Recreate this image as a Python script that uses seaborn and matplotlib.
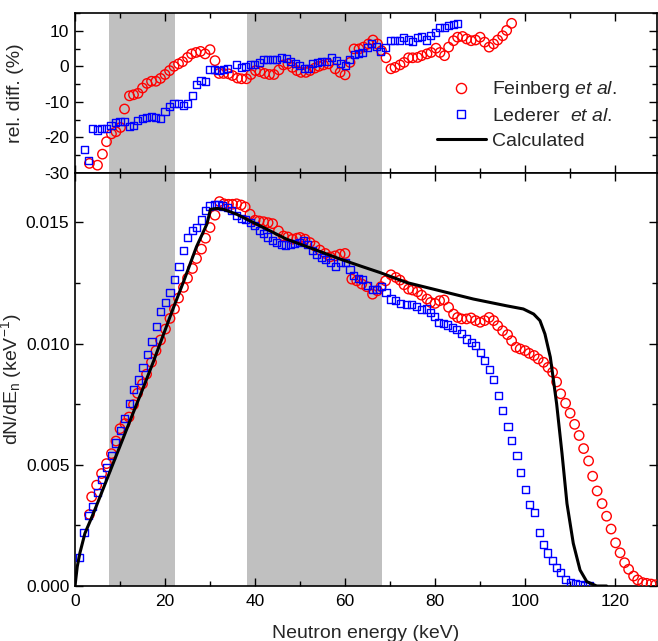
import numpy as np
import pandas as pd
import matplotlib
matplotlib.use("Agg")
import matplotlib.pyplot as plt
from matplotlib.ticker import MultipleLocator, FormatStrFormatter
from matplotlib.lines import Line2D
import seaborn as sns

# ---------------- data ----------------
# Bottom panel: Feinberg et al. (red circles)
fein_E = [3.2, 3.7, 4.8, 5.9, 7.0, 8.1, 9.1, 10.0, 11.1, 12.0, 13.0, 13.9, 15.0, 15.9, 17.0, 18.0,
          19.0, 20.1, 21.1, 22.1, 23.0, 24.1, 25.0, 26.1, 27.0, 28.1, 29.0, 30.0, 31.1, 32.1, 33.1,
          34.1, 35.0, 35.9, 36.9, 37.8, 38.9, 40.0, 40.9, 41.9, 42.9, 43.9, 45.2, 46.3, 47.3, 48.3,
          49.3, 50.0, 51.1, 52.2, 53.3, 54.4, 55.6, 56.7, 57.8, 58.9, 60.0, 61.5, 62.6, 63.7, 64.8,
          66.1, 67.2, 68.0, 69.0, 70.2, 71.3, 72.2, 73.1, 74.1, 75.0, 76.1, 77.0, 78.2, 79.0, 80.0,
          81.0, 82.0, 83.0, 84.1, 85.0, 85.9, 87.0, 88.0, 89.0, 90.0, 91.0, 92.0, 93.0, 93.9, 95.0,
          96.1, 97.0, 98.0, 98.9, 100.0, 100.9, 102.0, 102.9, 104.1, 105.1, 106.1, 107.0, 107.9,
          109.0, 110.0, 111.0, 112.0, 113.0, 114.1, 115.0, 116.0, 117.1, 118.1, 119.1, 120.1, 121.1,
          122.1, 123.0, 124.1, 125.0, 126.1, 127.0, 128.0, 129.0]
fein_Y = [0.00295, 0.00368, 0.00416, 0.00464, 0.00505, 0.00546, 0.00598, 0.00649, 0.0067, 0.00697,
          0.00748, 0.00795, 0.00834, 0.00874, 0.00923, 0.00971, 0.01015, 0.0106, 0.01104, 0.01143,
          0.01188, 0.01232, 0.0127, 0.0131, 0.01351, 0.0139, 0.01435, 0.01479, 0.0153, 0.01586,
          0.01577, 0.01575, 0.01575, 0.01577, 0.01572, 0.01564, 0.01534, 0.01509, 0.01506, 0.01503,
          0.01499, 0.01495, 0.01465, 0.01444, 0.0144, 0.01431, 0.01435, 0.01438, 0.01431, 0.01417,
          0.01403, 0.01386, 0.01372, 0.01358, 0.01362, 0.01369, 0.01372, 0.01266, 0.01259, 0.01246,
          0.01235, 0.01204, 0.01218, 0.01235, 0.01259, 0.01284, 0.01273, 0.01262, 0.01243, 0.01225,
          0.01221, 0.01214, 0.012, 0.01184, 0.0117, 0.01166, 0.01177, 0.0118, 0.0115, 0.01122,
          0.01108, 0.01102, 0.01102, 0.01106, 0.01095, 0.01088, 0.01095, 0.01108, 0.01095, 0.01074,
          0.01053, 0.01037, 0.01012, 0.00985, 0.00978, 0.00971, 0.0096, 0.00951, 0.00937, 0.00923,
          0.00902, 0.00882, 0.00842, 0.00793, 0.00754, 0.00713, 0.00667, 0.00621, 0.00567, 0.00516,
          0.00453, 0.00392, 0.0034, 0.00288, 0.00235, 0.00178, 0.00137, 0.00096, 0.00069, 0.00041,
          0.00025, 0.00014, 0.00011, 0.00008, 0.00005]

# Bottom panel: Lederer et al. (blue squares)
led_E = [1.1, 2.0, 3.1, 3.9, 5.0, 5.9, 7.0, 8.1, 9.0, 10.1, 11.0, 12.1, 13.0, 14.1, 15.1, 16.1, 17.1,
         18.1, 19.0, 20.1, 21.1, 22.2, 23.1, 24.1, 25.0, 26.1, 27.0, 28.1, 29.0, 29.9, 30.9, 31.9,
         32.8, 33.9, 34.8, 35.8, 36.9, 37.8, 38.9, 39.9, 40.9, 41.9, 42.8, 43.8, 44.8, 45.9, 46.8,
         47.8, 48.7, 49.8, 50.7, 51.7, 52.7, 53.7, 54.7, 55.7, 56.7, 57.8, 58.9, 60.0, 61.1, 61.9,
         63.0, 63.9, 65.0, 66.1, 67.0, 68.1, 69.1, 70.2, 71.3, 72.4, 73.6, 74.7, 75.8, 76.9, 78.0,
         79.0, 79.9, 80.8, 81.9, 82.8, 83.8, 84.8, 85.9, 87.0, 88.0, 89.0, 90.0, 91.0, 92.0, 93.0,
         94.1, 95.0, 96.2, 97.0, 98.2, 99.0, 100.1, 100.9, 102.0, 103.1, 104.1, 105.0, 106.0, 107.0,
         107.9, 109.0, 110.1, 111.1, 112.2, 113.3, 114.4]
led_Y = [0.00116, 0.00219, 0.00291, 0.00329, 0.00387, 0.0044, 0.0049, 0.0054, 0.0059, 0.0064,
         0.0069, 0.00754, 0.0081, 0.0085, 0.00902, 0.00955, 0.01008, 0.0107, 0.01133, 0.0117,
         0.0121, 0.01263, 0.0132, 0.01385, 0.01436, 0.01465, 0.01479, 0.0151, 0.0155, 0.01568,
         0.01572, 0.01572, 0.01568, 0.01561, 0.0155, 0.01527, 0.01517, 0.01513, 0.01499, 0.01486,
         0.01468, 0.01454, 0.0144, 0.01424, 0.01417, 0.0141, 0.01407, 0.0141, 0.01413, 0.01417,
         0.01424, 0.0141, 0.01383, 0.01369, 0.01355, 0.01347, 0.01336, 0.01317, 0.01333, 0.01335,
         0.01307, 0.0128, 0.01269, 0.01266, 0.01239, 0.01225, 0.01225, 0.01235, 0.01211, 0.01184,
         0.01177, 0.01166, 0.0116, 0.0116, 0.01152, 0.01139, 0.01143, 0.01129, 0.01111, 0.01088,
         0.01084, 0.01077, 0.01067, 0.0106, 0.0104, 0.01019, 0.01005, 0.00992, 0.00964, 0.0093,
         0.00893, 0.00852, 0.00786, 0.00724, 0.00658, 0.006, 0.00538, 0.0047, 0.004, 0.00337,
         0.00303, 0.00222, 0.00173, 0.00136, 0.00107, 0.00077, 0.00055, 0.00027, 0.00015, 0.00011,
         0.00007, 0.00003, 0.0]

# Bottom panel: calculated spectrum (black line)
calc_E = [0.0, 0.5, 1.1, 2.2, 4.1, 6.3, 8.5, 10.7, 13.0, 15.2, 17.4, 18.9, 21.8, 24.1, 27.0, 29.3,
          30.1, 31.5, 33.0, 35.9, 41.1, 47.0, 53.0, 58.9, 63.3, 67.8, 73.7, 81.1, 88.5, 95.9, 99.6,
          101.9, 103.3, 104.4, 105.6, 106.3, 107.0, 108.2, 109.3, 110.7, 112.2, 113.7, 115.9, 118.1]
calc_Y = [0.0, 0.0008, 0.00137, 0.00217, 0.003, 0.00403, 0.00507, 0.0061, 0.00718, 0.0082, 0.00925,
          0.01, 0.01145, 0.01255, 0.0140, 0.01493, 0.01554, 0.01558, 0.01554, 0.01534, 0.01486,
          0.01431, 0.0139, 0.01349, 0.01321, 0.01293, 0.01252, 0.01218, 0.01184, 0.01156, 0.01143,
          0.01122, 0.01095, 0.0104, 0.00944, 0.00848, 0.00752, 0.00546, 0.0034, 0.00176, 0.00066,
          0.00018, 0.0, 0.0]

# Top panel: relative differences (%)
rel_fein_E = [3.2, 5.0, 6.1, 7.0, 8.1, 9.1, 10.1, 11.0, 12.1, 13.0, 14.0, 15.0, 16.0, 17.0, 18.0,
              19.0, 20.0, 21.0, 22.0, 23.0, 23.9, 25.0, 25.9, 26.9, 27.9, 28.9, 30.0, 31.1, 32.0,
              33.0, 34.1, 35.0, 36.1, 37.0, 38.1, 39.1, 40.1, 41.1, 42.1, 43.2, 44.2, 45.3, 46.3,
              47.3, 48.3, 49.3, 50.2, 51.3, 52.2, 53.3, 54.2, 55.2, 56.3, 57.8, 58.9, 60.0, 61.1,
              62.0, 63.1, 64.1, 65.2, 66.2, 67.2, 68.1, 69.1, 70.2, 71.1, 72.2, 73.1, 74.1, 75.0,
              76.1, 77.0, 78.2, 79.1, 80.2, 81.1, 82.1, 83.0, 84.1, 85.0, 86.1, 87.0, 88.0, 89.0,
              90.0, 91.0, 92.0, 93.0, 93.9, 95.0, 95.9, 97.0]
rel_fein_Y = [-27.3, -27.8, -24.7, -21.2, -19.0, -18.4, -17.2, -12.0, -8.3, -8.0, -7.6, -6.1, -4.8,
              -4.2, -4.2, -3.4, -2.3, -1.2, 0.0, 0.7, 1.3, 2.5, 3.5, 3.9, 4.2, 3.5, 4.7, 1.6, -2.0,
              -2.0, -2.1, -2.6, -3.3, -3.5, -3.5, -2.3, -1.2, -1.5, -2.0, -2.3, -2.3, -1.0, 0.4,
              0.7, -0.3, -1.2, -1.7, -1.7, -1.2, -0.5, 0.0, 0.4, 0.7, -0.7, -1.7, -2.4, 1.1, 4.9,
              4.9, 5.4, 6.3, 7.4, 6.3, 4.4, 2.4, -0.7, -0.3, 0.4, 1.1, 2.4, 2.4, 2.5, 3.0, 3.5, 3.9,
              5.1, 3.9, 3.0, 5.4, 7.2, 8.2, 8.4, 7.7, 7.2, 7.4, 8.2, 6.8, 5.4, 6.3, 7.4, 8.6, 10.1,
              12.1]
rel_led_E = [2.1, 3.1, 3.9, 5.0, 5.9, 6.9, 8.0, 9.0, 10.0, 11.0, 12.1, 13.0, 13.9, 15.0, 15.9, 16.9,
             17.9, 19.0, 20.0, 21.0, 22.0, 23.0, 24.1, 25.0, 26.1, 27.0, 28.0, 29.0, 30.0, 31.0,
             32.0, 33.0, 33.9, 35.9, 36.9, 37.9, 38.9, 39.8, 40.9, 41.9, 42.8, 43.8, 44.8, 45.9,
             46.9, 47.9, 48.9, 49.8, 50.9, 51.8, 52.8, 53.8, 54.8, 55.9, 57.0, 58.1, 59.0, 60.0,
             61.0, 62.0, 63.0, 63.9, 65.0, 65.9, 66.9, 67.9, 68.9, 70.0, 71.0, 72.0, 73.0, 74.1,
             75.0, 76.1, 77.0, 78.0, 78.9, 80.0, 80.9, 82.0, 82.9, 84.1, 85.0]
rel_led_Y = [-23.5, -26.6, -17.6, -17.9, -17.6, -17.4, -16.7, -15.8, -15.5, -15.6, -17.0, -16.7,
             -15.3, -14.8, -14.4, -14.2, -14.5, -14.8, -12.7, -11.4, -10.4, -10.4, -10.9, -10.4,
             -8.3, -5.2, -4.0, -4.3, -1.0, -1.0, -1.2, -1.0, -0.7, 0.4, -0.3, -0.1, 0.4, 0.5, 1.1,
             1.9, 1.9, 1.9, 1.8, 2.5, 2.1, 1.3, 0.7, 0.2, -0.7, -0.7, 0.7, 1.1, 1.3, 1.3, 2.5, 1.6,
             0.8, 0.2, 1.8, 3.3, 3.7, 3.9, 5.4, 6.3, 5.5, 4.2, 5.4, 7.2, 7.2, 7.2, 8.2, 7.4, 7.0,
             8.2, 8.4, 7.4, 8.8, 9.6, 10.8, 11.0, 11.5, 11.7, 12.1]

# shaded energy windows (keV)
bands = [(7.5, 22.2), (38.2, 68.1)]

series_labels = ["Feinberg $\\mathit{et\\ al.}$", "Lederer  $\\mathit{et\\ al.}$", "Calculated"]

# ---------------- style ----------------
sns.set_style("ticks")
plt.rcParams['font.family'] = ['Liberation Sans', 'DejaVu Sans']
plt.rcParams['mathtext.fontset'] = 'custom'
plt.rcParams['mathtext.rm'] = 'Liberation Sans'
plt.rcParams['mathtext.it'] = 'Liberation Sans:italic'
plt.rcParams['mathtext.bf'] = 'Liberation Sans:bold'
plt.rcParams['axes.unicode_minus'] = False

fig = plt.figure(figsize=(6.58, 6.41), dpi=100)
L, R = 75 / 658, 657 / 658
ax_top = fig.add_axes([L, 1 - 173 / 641, R - L, (173 - 13) / 641])
ax_bot = fig.add_axes([L, 1 - 586 / 641, R - L, (586 - 173) / 641])

red, blue = '#ff0000', '#0000ff'
circ_kw = dict(marker='o', s=46, facecolor='none', edgecolor=red, linewidth=1.0, zorder=3)
sq_kw = dict(marker='s', s=26, facecolor='none', edgecolor=blue, linewidth=1.0, zorder=4)

df_f = pd.DataFrame({'E': fein_E, 'y': fein_Y})
df_l = pd.DataFrame({'E': led_E, 'y': led_Y})
df_c = pd.DataFrame({'E': calc_E, 'y': calc_Y})
df_rf = pd.DataFrame({'E': rel_fein_E, 'y': rel_fein_Y})
df_rl = pd.DataFrame({'E': rel_led_E, 'y': rel_led_Y})

for ax in (ax_top, ax_bot):
    for a, b in bands:
        ax.axvspan(a, b, color='#c0c0c0', lw=0, zorder=0)

sns.scatterplot(data=df_rf, x='E', y='y', ax=ax_top, **circ_kw)
sns.scatterplot(data=df_rl, x='E', y='y', ax=ax_top, **sq_kw)

sns.scatterplot(data=df_f, x='E', y='y', ax=ax_bot, **circ_kw)
sns.scatterplot(data=df_l, x='E', y='y', ax=ax_bot, **sq_kw)
sns.lineplot(data=df_c, x='E', y='y', ax=ax_bot, color='black', lw=2.2, sort=False,
             estimator=None, zorder=5)

for ax in (ax_top, ax_bot):
    ax.set_xlim(0, 129.3)
    ax.xaxis.set_major_locator(MultipleLocator(20))
    ax.xaxis.set_minor_locator(MultipleLocator(10))
    ax.tick_params(which='both', direction='in', top=True, right=True, width=1.0,
                   labelsize=12.5, colors='black')
    ax.tick_params(which='major', length=6)
    ax.tick_params(which='minor', length=3.5)
    ax.tick_params(axis='y', pad=4)
    ax.tick_params(axis='x', pad=6)
    for sp in ax.spines.values():
        sp.set_linewidth(1.2)
        sp.set_color('black')
    ax.set_facecolor('white')

ax_top.set_ylim(-30, 15)
ax_top.yaxis.set_major_locator(MultipleLocator(10))
ax_top.yaxis.set_minor_locator(MultipleLocator(5))
ax_top.tick_params(axis='x', labelbottom=False)
ax_top.set_xlabel('')
ax_top.set_ylabel('rel. diff. (%)', fontsize=14)

ax_bot.set_ylim(0, 0.01704)
ax_bot.yaxis.set_major_locator(MultipleLocator(0.005))
ax_bot.yaxis.set_minor_locator(MultipleLocator(0.0025))
ax_bot.yaxis.set_major_formatter(FormatStrFormatter('%.3f'))
ax_bot.set_xlabel('Neutron energy (keV)', fontsize=14, labelpad=11)
ax_bot.set_ylabel('dN/dE$_\\mathrm{n}$ (keV$^{-1}$)', fontsize=14)

for ax in (ax_top, ax_bot):
    ax.yaxis.set_label_coords(-0.087, 0.5)

handles = [
    Line2D([], [], ls='none', marker='o', markersize=7.3, markerfacecolor='none',
           markeredgecolor=red, markeredgewidth=1.0),
    Line2D([], [], ls='none', marker='s', markersize=5.8, markerfacecolor='none',
           markeredgecolor=blue, markeredgewidth=1.0),
    Line2D([], [], color='black', lw=2.2),
]
ax_top.legend(handles, series_labels, loc='upper left', bbox_to_anchor=(0.622, 0.585),
              frameon=False, fontsize=14, handlelength=2.5, handletextpad=0.35,
              labelspacing=0.36, borderpad=0, borderaxespad=0)

fig.savefig('out.png', dpi=100)
